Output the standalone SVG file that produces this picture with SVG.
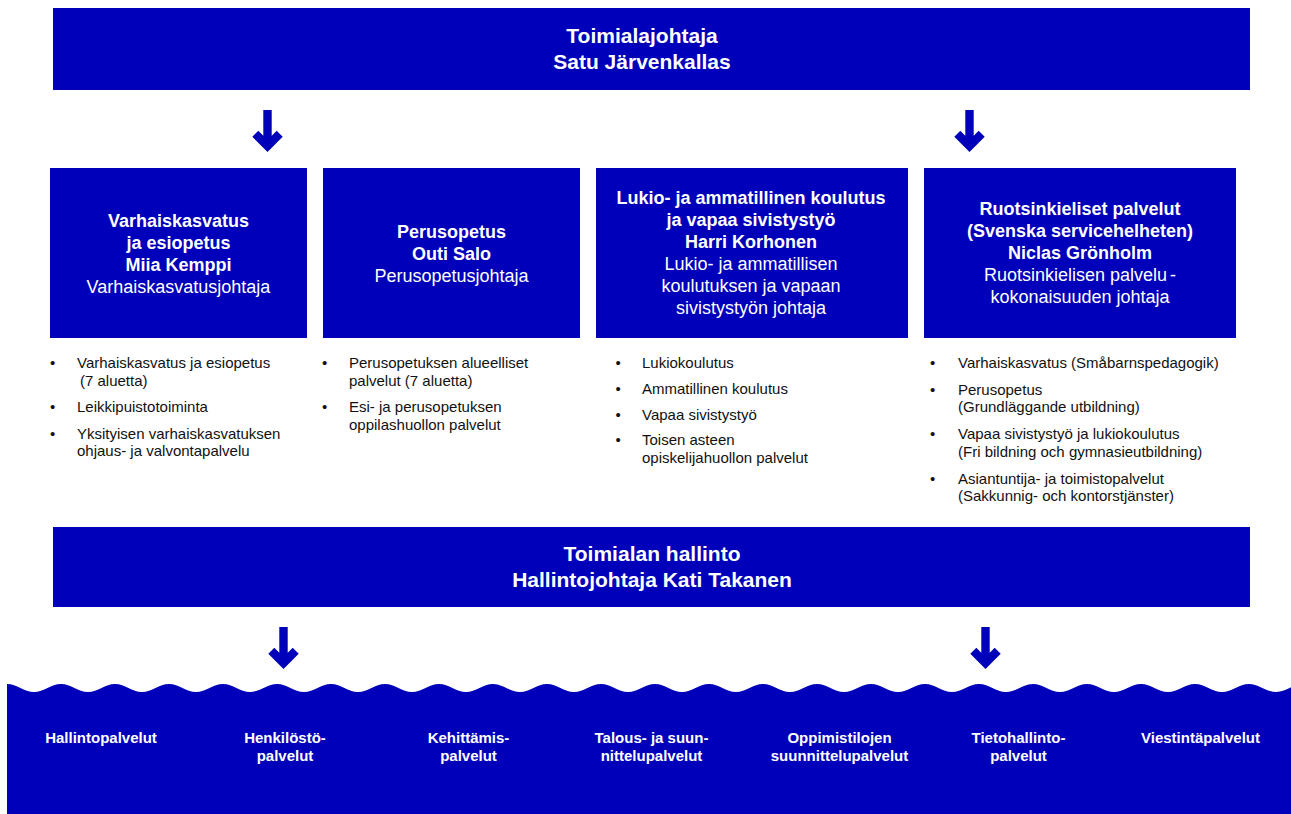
<svg xmlns="http://www.w3.org/2000/svg" xmlns:xlink="http://www.w3.org/1999/xlink" width="1291" height="814" viewBox="0 0 1291 814">
<style>
.box{fill:#0000BA}
.t{font-family:"Liberation Sans",Arial,Helvetica,sans-serif;fill:#ffffff;text-anchor:middle}
.b{font-weight:bold}
.h{font-size:21px}
.m{font-size:18px}
.s{font-size:15px}
.li{font-family:"Liberation Sans",Arial,Helvetica,sans-serif;font-size:15px;fill:#111111}
.arrow{fill:#0000BA}
</style>
<defs>
<polygon id="arr" points="-4.2,0 4.2,0 4.2,25.8 9.2,20.8 15.2,26.8 0,42 -15.2,26.8 -9.2,20.8 -4.2,25.8"/>
</defs>
<rect width="1291" height="814" fill="#ffffff"/>

<g id="top">
<rect class="box" x="53" y="8" width="1197" height="82"/>
<text class="t b h" x="642" y="43">Toimialajohtaja</text>
<text class="t b h" x="642" y="69">Satu Järvenkallas</text>
</g>

<g id="connectors">
<use href="#arr" class="arrow" x="267.5" y="110"/>
<use href="#arr" class="arrow" x="969.5" y="110"/>
<use href="#arr" class="arrow" x="283.5" y="627"/>
<use href="#arr" class="arrow" x="985.5" y="627"/>
</g>

<g id="varhaiskasvatus">
<rect class="box" x="50" y="168" width="257" height="170"/>
<text class="t b m" x="178.5" y="227">Varhaiskasvatus</text>
<text class="t b m" x="178.5" y="249">ja esiopetus</text>
<text class="t b m" x="178.5" y="271">Miia Kemppi</text>
<text class="t m" x="178.5" y="293">Varhaiskasvatusjohtaja</text>
</g>

<g id="perusopetus">
<rect class="box" x="323" y="168" width="257" height="170"/>
<text class="t b m" x="451.5" y="238">Perusopetus</text>
<text class="t b m" x="451.5" y="260">Outi Salo</text>
<text class="t m" x="451.5" y="282">Perusopetusjohtaja</text>
</g>

<g id="lukio">
<rect class="box" x="596" y="168" width="312" height="170"/>
<text class="t b m" x="751" y="204">Lukio- ja ammatillinen koulutus</text>
<text class="t b m" x="751" y="226">ja vapaa sivistystyö</text>
<text class="t b m" x="751" y="248">Harri Korhonen</text>
<text class="t m" x="751" y="270">Lukio- ja ammatillisen</text>
<text class="t m" x="751" y="292">koulutuksen ja vapaan</text>
<text class="t m" x="751" y="314">sivistystyön johtaja</text>
</g>

<g id="ruotsinkieliset">
<rect class="box" x="924" y="168" width="312" height="170"/>
<text class="t b m" x="1080" y="215">Ruotsinkieliset palvelut</text>
<text class="t b m" x="1080" y="237">(Svenska servicehelheten)</text>
<text class="t b m" x="1080" y="259">Niclas Grönholm</text>
<text class="t m" x="1080" y="281">Ruotsinkielisen palvelu<tspan dx="3">-</tspan></text>
<text class="t m" x="1080" y="303">kokonaisuuden johtaja</text>
</g>

<g id="list1">
<text class="li" x="50" y="368">•</text>
<text class="li" x="77" y="368">Varhaiskasvatus ja esiopetus</text>
<text class="li" x="80" y="385.5">(7 aluetta)</text>
<text class="li" x="50" y="412">•</text>
<text class="li" x="77" y="412">Leikkipuistotoiminta</text>
<text class="li" x="50" y="438.5">•</text>
<text class="li" x="77" y="438.5">Yksityisen varhaiskasvatuksen</text>
<text class="li" x="77" y="456">ohjaus- ja valvontapalvelu</text>
</g>

<g id="list2">
<text class="li" x="322" y="368">•</text>
<text class="li" x="349" y="368">Perusopetuksen alueelliset</text>
<text class="li" x="349" y="385.5">palvelut (7 aluetta)</text>
<text class="li" x="322" y="412">•</text>
<text class="li" x="349" y="412">Esi- ja perusopetuksen</text>
<text class="li" x="349" y="429.5">oppilashuollon palvelut</text>
</g>

<g id="list3">
<text class="li" x="615.5" y="368">•</text>
<text class="li" x="642" y="368">Lukiokoulutus</text>
<text class="li" x="615.5" y="394">•</text>
<text class="li" x="642" y="394">Ammatillinen koulutus</text>
<text class="li" x="615.5" y="419.5">•</text>
<text class="li" x="642" y="419.5">Vapaa sivistystyö</text>
<text class="li" x="615.5" y="445">•</text>
<text class="li" x="642" y="445">Toisen asteen</text>
<text class="li" x="642" y="463">opiskelijahuollon palvelut</text>
</g>

<g id="list4">
<text class="li" x="930" y="368">•</text>
<text class="li" x="958" y="368">Varhaiskasvatus (Småbarnspedagogik)</text>
<text class="li" x="930" y="394.5">•</text>
<text class="li" x="958" y="394.5">Perusopetus</text>
<text class="li" x="958" y="412">(Grundläggande utbildning)</text>
<text class="li" x="930" y="439">•</text>
<text class="li" x="958" y="439">Vapaa sivistystyö ja lukiokoulutus</text>
<text class="li" x="958" y="456.5">(Fri bildning och gymnasieutbildning)</text>
<text class="li" x="930" y="483.5">•</text>
<text class="li" x="958" y="483.5">Asiantuntija- ja toimistopalvelut</text>
<text class="li" x="958" y="501">(Sakkunnig- och kontorstjänster)</text>
</g>

<g id="hallinto">
<rect class="box" x="53" y="527" width="1197" height="80"/>
<text class="t b h" x="652" y="561">Toimialan hallinto</text>
<text class="t b h" x="652" y="587">Hallintojohtaja Kati Takanen</text>
</g>

<g id="palvelut">
<path class="box" d="M7,684 c10,0 17,8 27,8 c10,0 17,-8 27,-8 c10,0 17,8 27,8 c10,0 17,-8 27,-8 c10,0 17,8 27,8 c10,0 17,-8 27,-8 c10,0 17,8 27,8 c10,0 17,-8 27,-8 c10,0 17,8 27,8 c10,0 17,-8 27,-8 c10,0 17,8 27,8 c10,0 17,-8 27,-8 c10,0 17,8 27,8 c10,0 17,-8 27,-8 c10,0 17,8 27,8 c10,0 17,-8 27,-8 c10,0 17,8 27,8 c10,0 17,-8 27,-8 c10,0 17,8 27,8 c10,0 17,-8 27,-8 c10,0 17,8 27,8 c10,0 17,-8 27,-8 c10,0 17,8 27,8 c10,0 17,-8 27,-8 c10,0 17,8 27,8 c10,0 17,-8 27,-8 c10,0 17,8 27,8 c10,0 17,-8 27,-8 c10,0 17,8 27,8 c10,0 17,-8 27,-8 c10,0 17,8 27,8 c10,0 17,-8 27,-8 c10,0 17,8 27,8 c10,0 17,-8 27,-8 c10,0 17,8 27,8 c10,0 17,-8 27,-8 c10,0 17,8 27,8 c10,0 17,-8 27,-8 c10,0 17,8 27,8 c10,0 17,-8 27,-8 c10,0 17,8 27,8 c10,0 17,-8 27,-8 c10,0 17,8 27,8 c10,0 17,-8 27,-8 c10,0 17,8 27,8 c10,0 17,-8 27,-8 c10,0 17,8 27,8 c10,0 17,-8 27,-8 L1303,814 L7,814 Z"/>
<text class="t b s" x="101" y="743">Hallintopalvelut</text>
<text class="t b s" x="285" y="743">Henkilöstö-</text>
<text class="t b s" x="285" y="761">palvelut</text>
<text class="t b s" x="468.5" y="743">Kehittämis-</text>
<text class="t b s" x="468.5" y="761">palvelut</text>
<text class="t b s" x="651.5" y="743">Talous- ja suun-</text>
<text class="t b s" x="651.5" y="761">nittelupalvelut</text>
<text class="t b s" x="839.5" y="743">Oppimistilojen</text>
<text class="t b s" x="839.5" y="761">suunnittelupalvelut</text>
<text class="t b s" x="1018.5" y="743">Tietohallinto-</text>
<text class="t b s" x="1018.5" y="761">palvelut</text>
<text class="t b s" x="1200.5" y="743">Viestintäpalvelut</text>
</g>
</svg>
